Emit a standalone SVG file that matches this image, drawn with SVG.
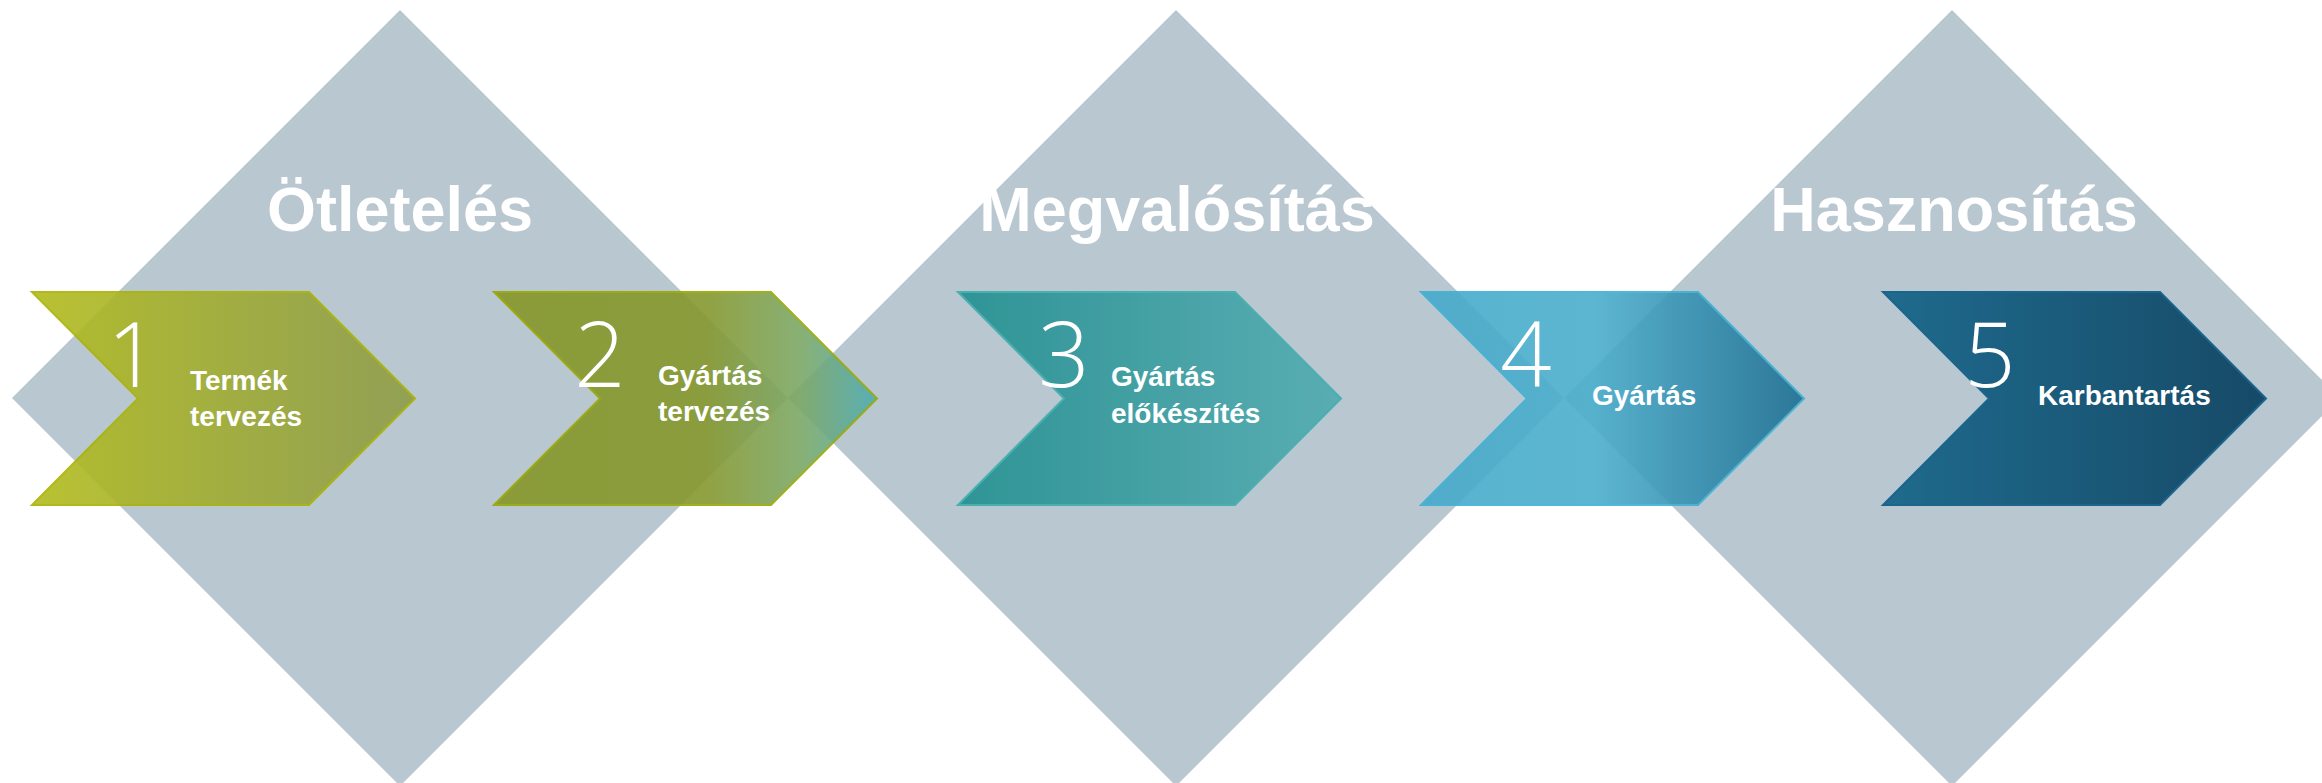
<svg xmlns="http://www.w3.org/2000/svg" width="2322" height="783" viewBox="0 0 2322 783">
<defs>
<style>
.dia{fill:#B9C7D0}
.phase{font-family:"Liberation Sans",Arial,sans-serif;font-weight:bold;font-size:63px;fill:#fff;text-anchor:middle}
.num{font-family:"Open Sans",sans-serif;font-weight:300;font-size:90px;fill:#fff;text-anchor:middle}
.lbl{font-family:"Liberation Sans",Arial,sans-serif;font-weight:bold;font-size:28px;fill:#fff}
.chev{opacity:0.9;stroke-width:2}
</style>
<linearGradient id="g1" x1="0" y1="0" x2="1" y2="0"><stop offset="0" stop-color="#B2BC1C"/><stop offset="1" stop-color="#8E9C48"/></linearGradient>
<linearGradient id="g2" x1="0" y1="0" x2="1" y2="0"><stop offset="0" stop-color="#879728"/><stop offset="0.55" stop-color="#86982E"/><stop offset="0.8" stop-color="#7CA866"/><stop offset="1" stop-color="#4FADB3"/></linearGradient>
<linearGradient id="g3" x1="0" y1="0" x2="1" y2="0"><stop offset="0" stop-color="#218F90"/><stop offset="1" stop-color="#4FABB0"/></linearGradient>
<linearGradient id="g4" x1="0" y1="0" x2="1" y2="0"><stop offset="0" stop-color="#45AACA"/><stop offset="0.45" stop-color="#4CAFCD"/><stop offset="1" stop-color="#1E6F93"/></linearGradient>
<linearGradient id="g5" x1="0" y1="0" x2="1" y2="0"><stop offset="0" stop-color="#0F6187"/><stop offset="1" stop-color="#053D5C"/></linearGradient>
</defs>
<g id="backgrounds">
<polygon class="dia" points="400,10 788,398 400,786 12,398"/>
<polygon class="dia" points="1176,10 1564,398 1176,786 788,398"/>
<polygon class="dia" points="1952,10 2340,398 1952,786 1564,398"/>
<text class="phase" x="400" y="231">Ötletelés</text>
<text class="phase" x="1177" y="231">Megvalósítás</text>
<text class="phase" x="1954" y="231">Hasznosítás</text>
</g>
<g id="connectors"></g>
<g id="step1">
<polygon class="chev" fill="url(#g1)" stroke="#A9B300" points="32,292 309,292 415,398.5 309,505 32,505 138,398.5"/>
<text class="num" x="133" y="387">1</text>
<text class="lbl" x="190" y="390">Termék</text>
<text class="lbl" x="190" y="426">tervezés</text>
</g>
<g id="step2">
<polygon class="chev" fill="url(#g2)" stroke="#97A800" points="494,292 771,292 877,398.5 771,505 494,505 600,398.5"/>
<text class="num" x="600" y="387">2</text>
<text class="lbl" x="658" y="385">Gyártás</text>
<text class="lbl" x="658" y="421">tervezés</text>
</g>
<g id="step3">
<polygon class="chev" fill="url(#g3)" stroke="#3DAEAA" points="958,292 1235,292 1341,398.5 1235,505 958,505 1064,398.5"/>
<text class="num" x="1064" y="387">3</text>
<text class="lbl" x="1111" y="386">Gyártás</text>
<text class="lbl" x="1111" y="423">előkészítés</text>
</g>
<g id="step4">
<polygon class="chev" fill="url(#g4)" stroke="#3DB0D4" points="1421,292 1698,292 1804,398.5 1698,505 1421,505 1527,398.5"/>
<text class="num" x="1526" y="387">4</text>
<text class="lbl" x="1592" y="405">Gyártás</text>
</g>
<g id="step5">
<polygon class="chev" fill="url(#g5)" stroke="#0A5A85" points="1883,292 2160,292 2266,398.5 2160,505 1883,505 1989,398.5"/>
<text class="num" x="1990" y="387">5</text>
<text class="lbl" x="2038" y="405">Karbantartás</text>
</g>
</svg>
